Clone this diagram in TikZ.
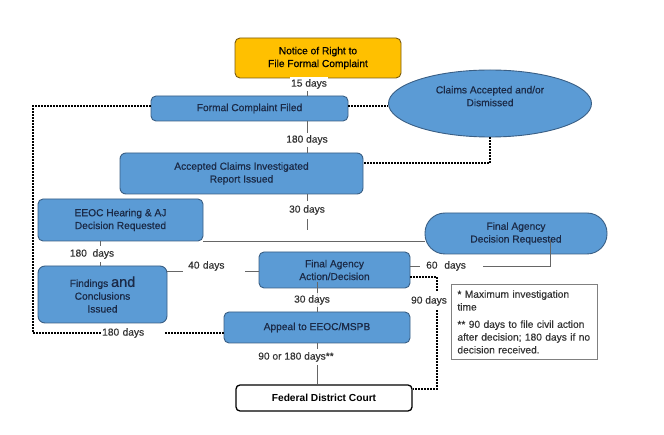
\documentclass[tikz,border=0pt]{standalone}
\usepackage{fontspec}
\setmainfont{Liberation Sans}
\newfontfamily\heavyfont[FakeBold=0.6]{Liberation Sans}
\newfontfamily\labelfont[FakeBold=0.3]{Liberation Sans}
\usetikzlibrary{shapes.geometric,calc}
\definecolor{boxblue}{HTML}{5B9BD5}
\definecolor{boxedge}{HTML}{3A5F85}
\definecolor{boxtext}{HTML}{1B2A47}
\definecolor{gold}{HTML}{FFC000}
\definecolor{goldedge}{HTML}{7A5C10}
\definecolor{linegray}{HTML}{666666}
\definecolor{labeltext}{HTML}{333333}
\definecolor{noteedge}{HTML}{808080}
\begin{document}
\begin{tikzpicture}[x=1pt,y=-1pt,
  every node/.style={font=\labelfont\fontsize{10.2}{12.8}\selectfont},
  bluebox/.style={draw=boxedge, line width=0.9pt, fill=boxblue, rounded corners=5pt, text=boxtext, align=center, inner sep=0pt, font=\heavyfont\fontsize{10.2}{12.8}\selectfont},
  goldbox/.style={draw=goldedge, line width=0.9pt, fill=gold, rounded corners=5pt, text=black, align=center, inner sep=0pt, font=\heavyfont\fontsize{10.2}{12.8}\selectfont},
  daylabel/.style={fill=white, text=labeltext, inner xsep=1pt, inner ysep=2pt},
  conn/.style={draw=linegray, line width=0.8pt},
  dotconn/.style={draw=black, line width=1.4pt, dash pattern=on 1.4pt off 1.6pt},
]
\useasboundingbox (0,0) rectangle (664,435);
\fill[white] (0,0) rectangle (664,435);

% helper coordinates
\coordinate (x307) at (307,0);
\coordinate (x100) at (100,0);
\coordinate (x317) at (317,0);
\coordinate (x437) at (437,0);
\coordinate (dl) at (33,0);
\coordinate (y106) at (0,106);
\coordinate (y163) at (0,163);
\coordinate (y266) at (0,266);
\coordinate (y271) at (0,271);
\coordinate (y277) at (0,277);
\coordinate (y333) at (0,333);
\coordinate (y389) at (0,389);
\coordinate (c30) at (307,230);
\coordinate (f60) at (550,240);
\coordinate (c317) at (317,282);

% nodes
\node[goldbox, minimum width=166pt, minimum height=40pt] (notice) at (318,58) {Notice of Right to\\File Formal Complaint};
\node[bluebox, minimum width=197pt, minimum height=25pt] (formal) at (249.5,108.5) {Formal Complaint Filed};
\node[bluebox, minimum width=243pt, minimum height=41pt, rounded corners=6pt] (accepted) at (241.5,173.5) {Accepted Claims Investigated\\Report Issued};
\node[bluebox, ellipse, sharp corners, minimum width=203pt, minimum height=67pt] (claims) at (490,103.5) {Claims Accepted and/or\\Dismissed\\[2pt]};
\node[bluebox, minimum width=165pt, minimum height=42pt] (eeoc) at (120.5,220) {EEOC Hearing \& AJ\\Decision Requested};
\node[bluebox, minimum width=182pt, minimum height=41pt, rounded corners=20pt] (fadr) at (516,233.5) {Final Agency\\Decision Requested};
\node[bluebox, minimum width=151pt, minimum height=36pt] (faad) at (334.5,270) {Final Agency\\Action/Decision};
\node[bluebox, minimum width=129pt, minimum height=57pt, rounded corners=7pt] (findings) at (102.5,294.5) {Findings {\fontsize{14.5}{12.8}\selectfont and}\\Conclusions\\Issued};
\node[bluebox, minimum width=186pt, minimum height=31pt] (appeal) at (317,327.5) {Appeal to EEOC/MSPB};
\node[draw=black, line width=1.3pt, fill=white, rounded corners=4pt, minimum width=176pt, minimum height=26pt, inner sep=0pt, font=\bfseries\fontsize{10.2}{12.8}\selectfont] (federal) at (324,398) {Federal District Court};
\node[draw=noteedge, line width=0.9pt, anchor=north west, minimum width=146pt, minimum height=75pt, text width=134pt, inner xsep=6pt, align=left, text=labeltext] (note) at (451,284) {* Maximum investigation\\time\\[4.5pt]** 90 days to file civil action\\after decision; 180 days if no\\decision received.};

% solid connectors
\draw[conn] (notice.south -| x307) -- (formal.north -| x307);
\draw[conn] (formal.south -| x307) -- (accepted.north -| x307);
\draw[conn] (accepted.south -| x307) -- (c30);
\draw[conn] (eeoc.south east) -- (eeoc.south east -| fadr.west);
\draw[conn] (f60) |- (faad.east |- y266);
\draw[conn] (findings.east |- y271) -- (faad.west |- y271);
\draw[conn] (eeoc.south -| x100) -- (findings.north -| x100);
\draw[conn] (c317) -- (appeal.north -| c317);
\draw[conn] (appeal.south -| x317) -- (federal.north -| x317);

% dotted connectors
\draw[dotconn] (formal.west |- y106) -| (dl |- y333) -- (appeal.west |- y333);
\draw[dotconn] (formal.east |- y106) -- (claims.west |- y106);
\draw[dotconn] (claims.south) |- (accepted.east |- y163);
\draw[dotconn] (faad.east |- y277) -| (x437 |- y389) -- (federal.east |- y389);

% labels
\node[daylabel] (l15) at (309,84) {15 days};
\node[daylabel] (l180a) at (307,140) {180 days};
\node[daylabel, inner ysep=4pt] (l30a) at (307,210) {30 days};
\node[daylabel, inner ysep=3pt] (l180b) at (92,254) {180\ \ days};
\node[daylabel, anchor=west, text width=52pt, inner xsep=5pt, inner ysep=3pt, align=left] (l40) at (183,266) {40 days};
\node[daylabel, anchor=west, text width=51pt, inner xsep=6pt, inner ysep=3pt, align=left] (l60) at (420,266) {60\ \ days};
\node[daylabel, fill opacity=0.85, text opacity=1] (l30b) at (312,300) {30 days};
\node[daylabel, inner ysep=4pt] (l90) at (429,301) {90 days};
\node[daylabel, anchor=west, text width=62pt, inner xsep=1pt, align=left] (l180c) at (101,333) {180 days};
\node[daylabel, inner ysep=3pt] (l90180) at (296,357) {90 or 180 days**};
\end{tikzpicture}
\end{document}
